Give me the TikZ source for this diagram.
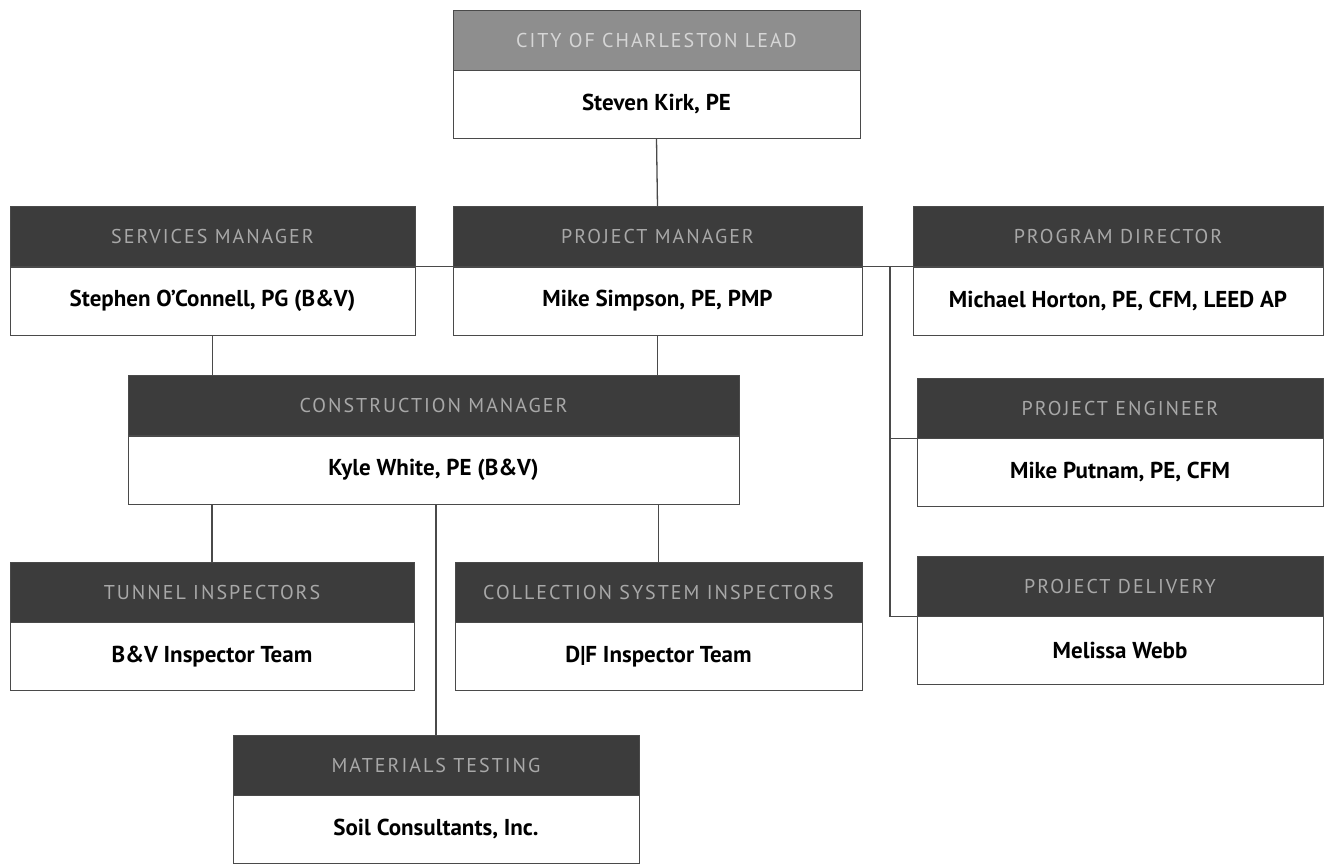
\documentclass[tikz,border=0pt]{standalone}
\usepackage{fontspec}
\setmainfont{PT Sans}
\usetikzlibrary{positioning}

\definecolor{hdgray}{HTML}{3C3C3C}
\definecolor{hdtext}{HTML}{A8A8A8}
\definecolor{leadgray}{HTML}{8E8E8E}
\definecolor{leadtext}{HTML}{D6D6D6}
\definecolor{edgegray}{HTML}{4A4A4A}

\newcommand{\headfont}{\fontsize{20}{24}\selectfont\addfontfeature{LetterSpace=10}}
\newcommand{\namefont}{\fontsize{23}{27}\selectfont\bfseries}

\tikzset{
  headbox/.style={fill=hdgray, draw=edgegray, text=hdtext, font=\headfont,
    minimum height=60pt, inner sep=0pt},
  namebox/.style={fill=white, draw=edgegray, text=black, font=\namefont,
    minimum height=68pt, inner sep=0pt},
  link/.style={draw=edgegray, line width=1.3pt}
}

\begin{document}
\begin{tikzpicture}[x=1pt,y=-1pt]
  \useasboundingbox (0,0) rectangle (1328,863);
  % top
  \node[headbox, fill=leadgray, text=leadtext, minimum width=407pt] (cityhead) at (656.5,40) {CITY OF CHARLESTON LEAD};
  \node[namebox, minimum width=407pt, below=0pt of cityhead] (city) {Steven Kirk, PE};
  % second row
  \node[headbox, minimum width=405pt] (svchead) at (212.5,236.5) {SERVICES MANAGER};
  \node[namebox, minimum width=405pt, below=0pt of svchead] (svc) {Stephen O'Connell, PG (B\&V)};
  \node[headbox, minimum width=409pt] (pmhead) at (657.5,236.5) {PROJECT MANAGER};
  \node[namebox, minimum width=409pt, below=0pt of pmhead] (pm) {Mike Simpson, PE, PMP};
  \node[headbox, minimum width=410pt] (pdhead) at (1118,236.5) {PROGRAM DIRECTOR};
  \node[namebox, minimum width=410pt, below=0pt of pdhead] (pd) {Michael Horton, PE, CFM, LEED AP};
  % third row
  \node[headbox, minimum width=611pt] (cmhead) at (433.5,405.5) {CONSTRUCTION MANAGER};
  \node[namebox, minimum width=611pt, below=0pt of cmhead] (cm) {Kyle White, PE (B\&V)};
  \node[headbox, minimum width=406pt] (pehead) at (1120,408) {PROJECT ENGINEER};
  \node[namebox, minimum width=406pt, below=0pt of pehead] (pe) {Mike Putnam, PE, CFM};
  % fourth row
  \node[headbox, minimum width=404pt] (tunhead) at (212,592) {TUNNEL INSPECTORS};
  \node[namebox, minimum width=404pt, below=0pt of tunhead] (tun) {B\&V Inspector Team};
  \node[headbox, minimum width=407pt] (colhead) at (658.5,592) {COLLECTION SYSTEM INSPECTORS};
  \node[namebox, minimum width=407pt, below=0pt of colhead] (col) {D|F Inspector Team};
  \node[headbox, minimum width=406pt] (pdelhead) at (1120,586) {PROJECT DELIVERY};
  \node[namebox, minimum width=406pt, below=0pt of pdelhead] (pdel) {Melissa Webb};
  % bottom
  \node[headbox, minimum width=406pt] (mathead) at (436,765) {MATERIALS TESTING};
  \node[namebox, minimum width=406pt, below=0pt of mathead] (mat) {Soil Consultants, Inc.};

  % connectors
  \draw[link] (city.south) -- (pmhead.north);
  \draw[link] (svc.north east) -- (pm.north west);
  \draw[link] (pm.north east) -- (pd.north west);
  \coordinate (bus) at (890,266);
  \draw[link] (bus) |- (pe.north west);
  \draw[link] (bus) |- (pdel.north west);
  \draw[link] (svc.south) -- (svc.south |- cmhead.north);
  \draw[link] (pm.south) -- (pm.south |- cmhead.north);
  \draw[link] (cm.south -| tunhead.north) -- (tunhead.north);
  \draw[link] (cm.south -| colhead.north) -- (colhead.north);
  \draw[link] (cm.south -| mathead.north) -- (mathead.north);
\end{tikzpicture}
\end{document}
